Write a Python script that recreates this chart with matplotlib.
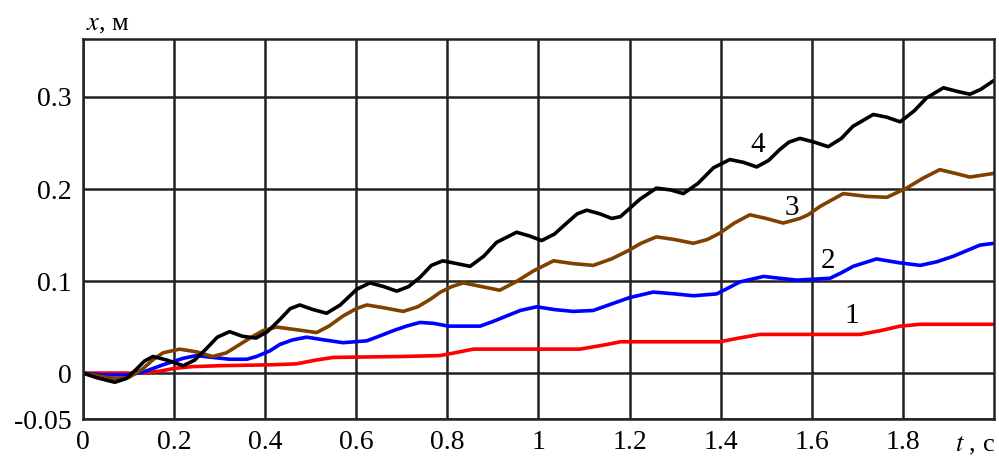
"""
Displacement x(t) of four variants, Mathcad-style grid chart.
"""
import matplotlib
matplotlib.use("Agg")

import matplotlib.pyplot as plt

# curve 1 (red)
t1 = [0, 0.124, 0.168, 0.2, 0.241, 0.3, 0.416, 0.469, 0.51, 0.55, 0.7,
      0.784, 0.806, 0.857, 1.091, 1.15, 1.18, 1.398, 1.44, 1.486, 1.706,
      1.75, 1.794, 1.838, 2.0]
x1 = [0, 0, 0.002, 0.005, 0.007, 0.008, 0.009, 0.010, 0.014, 0.017, 0.018,
      0.019, 0.021, 0.026, 0.026, 0.031, 0.034, 0.034, 0.038, 0.042, 0.042,
      0.046, 0.051, 0.053, 0.053]

# curve 2 (blue)
t2 = [0, 0.04, 0.1, 0.132, 0.176, 0.22, 0.249, 0.285, 0.322, 0.36, 0.381,
      0.41, 0.432, 0.46, 0.491, 0.53, 0.571, 0.623, 0.65, 0.681, 0.71, 0.74,
      0.77, 0.802, 0.872, 0.9, 0.93, 0.96, 0.996, 1.035, 1.076, 1.12, 1.16,
      1.2, 1.252, 1.3, 1.34, 1.391, 1.415, 1.442, 1.494, 1.53, 1.567, 1.64,
      1.665, 1.691, 1.742, 1.79, 1.838, 1.875, 1.911, 1.94, 1.969, 2.0]
x2 = [0, -0.002, -0.002, 0.001, 0.009, 0.016, 0.019, 0.017, 0.015, 0.015,
      0.018, 0.024, 0.031, 0.036, 0.039, 0.036, 0.033, 0.035, 0.040, 0.046,
      0.051, 0.055, 0.054, 0.051, 0.051, 0.056, 0.062, 0.068, 0.072, 0.069,
      0.067, 0.068, 0.075, 0.082, 0.088, 0.086, 0.084, 0.086, 0.092, 0.099,
      0.105, 0.103, 0.101, 0.103, 0.109, 0.116, 0.124, 0.120, 0.117, 0.121,
      0.127, 0.133, 0.139, 0.141]

# curve 3 (brown)
t3 = [0, 0.03, 0.07, 0.1, 0.13, 0.155, 0.176, 0.212, 0.25, 0.285, 0.315,
      0.344, 0.37, 0.395, 0.425, 0.47, 0.513, 0.54, 0.571, 0.6, 0.623, 0.66,
      0.703, 0.735, 0.762, 0.785, 0.81, 0.835, 0.875, 0.915, 0.95, 0.989,
      1.033, 1.075, 1.12, 1.16, 1.197, 1.225, 1.259, 1.3, 1.34, 1.37, 1.398,
      1.43, 1.464, 1.5, 1.537, 1.574, 1.592, 1.618, 1.669, 1.72, 1.765,
      1.808, 1.845, 1.881, 1.915, 1.947, 2.0]
x3 = [0, -0.003, -0.006, -0.005, 0.004, 0.015, 0.022, 0.026, 0.023, 0.018,
      0.022, 0.031, 0.039, 0.046, 0.050, 0.047, 0.044, 0.051, 0.062, 0.070,
      0.074, 0.071, 0.067, 0.072, 0.080, 0.088, 0.094, 0.098, 0.094, 0.090,
      0.099, 0.111, 0.122, 0.119, 0.117, 0.124, 0.133, 0.141, 0.148, 0.145,
      0.141, 0.145, 0.152, 0.163, 0.172, 0.168, 0.163, 0.168, 0.172, 0.181,
      0.195, 0.192, 0.191, 0.201, 0.212, 0.221, 0.217, 0.213, 0.217]

# curve 4 (black)
t4 = [0, 0.03, 0.07, 0.095, 0.117, 0.135, 0.154, 0.185, 0.22, 0.245, 0.27,
      0.295, 0.322, 0.35, 0.38, 0.405, 0.432, 0.455, 0.476, 0.505, 0.535,
      0.565, 0.601, 0.63, 0.66, 0.689, 0.715, 0.74, 0.765, 0.79, 0.82, 0.85,
      0.88, 0.908, 0.952, 0.98, 1.007, 1.035, 1.062, 1.085, 1.106, 1.135,
      1.161, 1.18, 1.223, 1.259, 1.29, 1.318, 1.35, 1.384, 1.42, 1.45,
      1.479, 1.505, 1.53, 1.55, 1.574, 1.605, 1.636, 1.665, 1.69, 1.735,
      1.765, 1.794, 1.825, 1.852, 1.889, 1.92, 1.947, 1.97, 2.0]
x4 = [0, -0.005, -0.010, -0.006, 0.004, 0.013, 0.018, 0.014, 0.008, 0.014,
      0.026, 0.039, 0.045, 0.040, 0.038, 0.045, 0.058, 0.070, 0.074, 0.069,
      0.065, 0.074, 0.091, 0.098, 0.094, 0.089, 0.094, 0.104, 0.117, 0.122,
      0.119, 0.116, 0.127, 0.142, 0.153, 0.149, 0.144, 0.151, 0.163, 0.173,
      0.177, 0.173, 0.168, 0.170, 0.189, 0.201, 0.199, 0.195, 0.206, 0.223,
      0.232, 0.229, 0.224, 0.231, 0.243, 0.251, 0.255, 0.251, 0.246, 0.255,
      0.268, 0.281, 0.278, 0.273, 0.285, 0.299, 0.310, 0.306, 0.303, 0.308,
      0.318]

curve_labels = ['1', '2', '3', '4']
label_pos = [(1.688, 0.062), (1.636, 0.122), (1.556, 0.179), (1.482, 0.248)]

x_ticks = [0, 0.2, 0.4, 0.6, 0.8, 1, 1.2, 1.4, 1.6, 1.8]
x_tick_labels = ['0', '0.2', '0.4', '0.6', '0.8', '1', '1.2', '1.4', '1.6', '1.8']
y_ticks = [-0.05, 0, 0.1, 0.2, 0.3]
y_tick_labels = ['-0.05', '0', '0.1', '0.2', '0.3']

SERIF = 'Liberation Serif'
GRID = '#222222'


def draw_graph():
  fig = plt.figure(figsize=(9.99, 4.59), dpi=100)
  axs = fig.add_axes([0.083, 0.087, 0.912, 0.828])

  style = dict(linewidth=2.6, solid_joinstyle='round', solid_capstyle='round')
  axs.plot(t1, x1, color='#ff0000', **style)
  axs.plot(t2, x2, color='#0000ff', **style)
  axs.plot(t3, x3, color='#804000', **style)
  axs.plot(t4, x4, color='#000000', **style)

  for lab, (lx, ly) in zip(curve_labels, label_pos):
    axs.text(lx, ly, lab, fontsize=21, family=SERIF, ha='center',
             va='center')

  axs.set_xlim(0, 2)
  axs.set_ylim(-0.05, 0.363)
  axs.set_xticks(x_ticks)
  axs.set_xticklabels(x_tick_labels)
  axs.set_yticks(y_ticks)
  axs.set_yticklabels(y_tick_labels)
  axs.tick_params(length=0, labelsize=20, pad=8)
  for lab in axs.get_xticklabels() + axs.get_yticklabels():
    lab.set_family(SERIF)

  axs.grid(True, color=GRID, linewidth=1.8)
  axs.set_axisbelow(True)
  for sp in axs.spines.values():
    sp.set_color(GRID)
    sp.set_linewidth(1.8)

  fig.text(0.086, 0.945, '$x$, м', fontsize=19, family=SERIF,
           ha='left', va='center')
  fig.text(0.996, 0.028, '$t$ , с', fontsize=19, family=SERIF,
           ha='right', va='center')

  fig.savefig('out.png', dpi=100)
  plt.close(fig)


if __name__ == '__main__':
  plt.rcParams['mathtext.fontset'] = 'stix'
  draw_graph()
